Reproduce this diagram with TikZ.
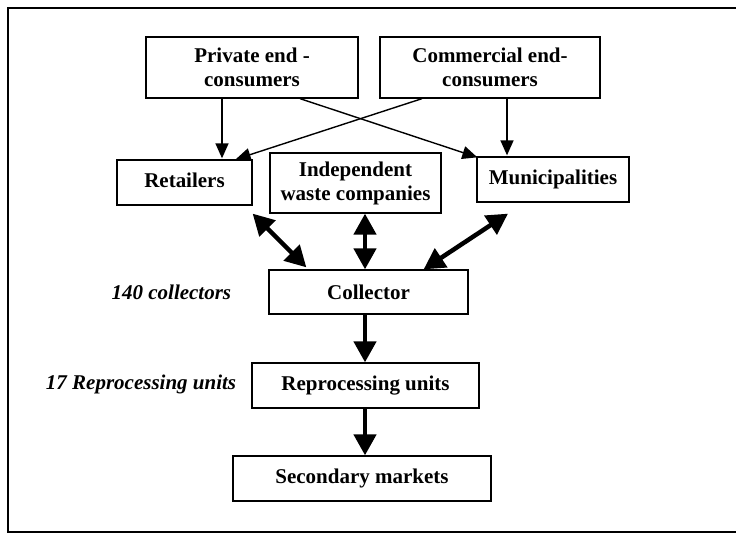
\documentclass[tikz,border=0pt]{standalone}
\usepackage{fontspec}
\setmainfont{Liberation Serif}
\usetikzlibrary{arrows.meta,calc}
\begin{document}
\begin{tikzpicture}[x=1pt,y=-1pt,
  box/.style={draw,line width=1.3pt,inner sep=0pt,align=center,
    font=\fontsize{21}{24}\selectfont\bfseries},
  note/.style={inner sep=0pt,font=\fontsize{21}{24}\selectfont\bfseries\itshape},
  flow/.style={line width=1.4pt,-{Triangle[width=13pt,length=15pt]}},
  link/.style={line width=4.5pt,{Triangle[width=22pt,length=21pt]}-{Triangle[width=22pt,length=21pt]}},
  feed/.style={line width=4.5pt,-{Triangle[width=22pt,length=21pt]}}]
\useasboundingbox (0,0) rectangle (736,534);
% open frame (right side runs off the page)
\draw[line width=1.5pt] (745,8) -- (8,8) -- (8,532) -- (745,532);

% boxes
\node[box,minimum width=212pt,minimum height=61pt] (priv) at (252,67.5) {Private end -\\consumers};
\node[box,minimum width=220pt,minimum height=61pt] (comm) at (490,67.5) {Commercial end-\\consumers};
\node[box,minimum width=135pt,minimum height=45pt] (ret) at (184.5,182.5) {\raisebox{4pt}{Retailers}};
\node[box,minimum width=171pt,minimum height=60pt] (ind) at (355.5,183) {Independent\\waste companies};
\node[box,minimum width=152pt,minimum height=45pt] (mun) at (553,179.5) {\raisebox{2pt}{Municipalities}};
\node[box,minimum width=199pt,minimum height=44pt] (coll) at (368.5,292) {Collector};
\node[box,minimum width=227pt,minimum height=45pt] (rep) at (365.5,385.5) {Reprocessing units};
\node[box,minimum width=258pt,minimum height=45pt] (sec) at (362,478.5) {Secondary markets};

% side notes
\node[note,anchor=east] (ncoll) at ($(coll.west)+(-37,0)$) {140 collectors};
\node[note,anchor=east] (nrep) at ($(rep.west)+(-15,-1)$) {17 Reprocessing units};

% consumers to first receivers
\draw[flow] ($(priv.south)+(-30,0)$) -- ($(ret.north)+(37.5,-1)$);
\draw[flow] ($(priv.south)+(48,0)$) -- ($(mun.north west)+(1,1)$);
\draw[flow] ($(comm.south)+(-68,0)$) -- ($(ret.north east)+(-17,0)$);
\draw[flow] ($(comm.south)+(17,0)$) -- ($(mun.north)+(-46,-1)$);

% exchange with the collector
\draw[link] ($(ret.south east)+(0,8)$) -- ($(coll.north west)+(38,-2)$);
\draw[link] ($(ind.south)+(9.5,0)$) -- ($(coll.north)+(-3.5,0)$);
\draw[link] ($(mun.south)+(-45,11)$) -- ($(coll.north east)+(-45,0)$);

% downstream chain
\draw[feed] ($(coll.south)+(-3.5,0)$) -- ($(rep.north)+(-0.5,0)$);
\draw[feed] ($(rep.south)+(-0.5,0)$) -- ($(sec.north)+(3,0)$);
\end{tikzpicture}
\end{document}
